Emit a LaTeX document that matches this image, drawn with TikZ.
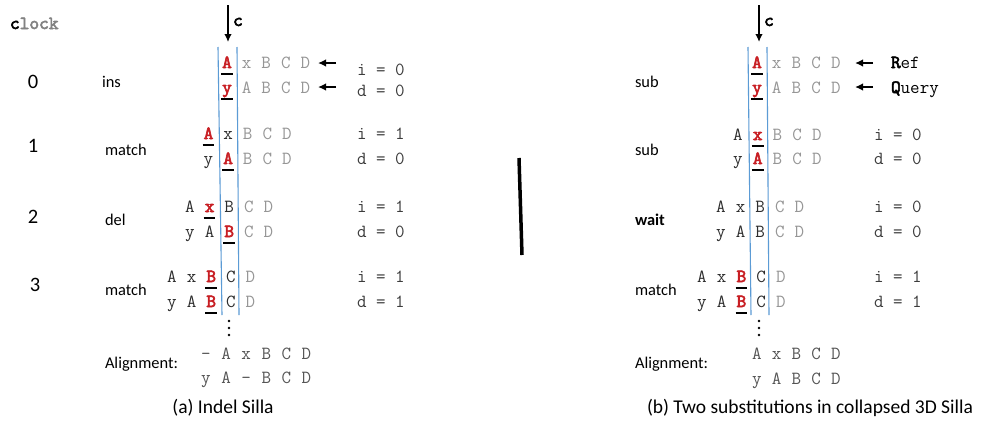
\documentclass[tikz,border=0pt]{standalone}
\usepackage{fontspec}
\setmainfont{Carlito}
\newcommand\monofam{\ttfamily}
\newfontfamily\monobf[FakeBold=3]{lmmono10-regular.otf}
\usetikzlibrary{arrows.meta}
\definecolor{hitred}{RGB}{200,30,35}
\definecolor{seqgray}{RGB}{150,150,150}
\definecolor{seqblack}{RGB}{45,45,45}
\definecolor{alngray}{RGB}{85,85,85}
\definecolor{idgray}{RGB}{60,60,60}
\definecolor{colblue}{RGB}{91,155,213}
\definecolor{lockgray}{RGB}{130,130,130}
\newcommand\seqrow[5]{%
  \foreach \st/\ch [count=\k] in {#5} {\node[\st] (#1-\k) at ({#2+(\k-1)*#3},#4) {\ch};}}
\tikzset{
  every node/.style={inner sep=0pt, outer sep=0pt},
  sq/.style={font=\monofam\fontsize{18.5}{21}\selectfont, anchor=base},
  gry/.style={sq, text=seqgray},
  blk/.style={sq, text=seqblack},
  aln/.style={sq, text=alngray},
  hit/.style={sq, text=hitred, font=\monobf\fontsize{18.5}{21}\selectfont,
    append after command={\pgfextra{\draw[line width=1.4pt,black]
      ([xshift=-1pt,yshift=-6pt]\tikzlastnode.base west) --
      ([xshift=1pt,yshift=-6pt]\tikzlastnode.base east);}}},
  idtxt/.style={font=\monofam\fontsize{18.5}{21}\selectfont, text=idgray, anchor=base west},
  oplab/.style={font=\fontsize{16.4}{19}\selectfont, anchor=base west},
  clknum/.style={font=\fontsize{20.5}{24}\selectfont},
  caption/.style={font=\fontsize{19.5}{23}\selectfont, anchor=base},
  colline/.style={draw=colblue, line width=1.1pt},
  arr/.style={line width=1.5pt, -{Latex[length=8pt,width=7.5pt]}},
  cmark/.style={font=\monobf\fontsize{18.5}{21}\selectfont, anchor=base},
  rq/.style={font=\monofam\fontsize{18.5}{21}\selectfont, anchor=base west},
}
\begin{document}
\begin{tikzpicture}[x=1pt,y=-1pt]
\useasboundingbox[fill=white] (0,0) rectangle (989,426);

% clock header and numbers
\node[anchor=base west, font=\monobf\fontsize{18.5}{21}\selectfont] (clk) at (10,29) {c\textcolor{lockgray}{lock}};
\node[clknum] (k0) at (33,82) {0};
\node[clknum] (k1) at (33,146) {1};
\node[clknum] (k2) at (33,217) {2};
\node[clknum] (k3) at (35,285) {3};

% ===== Panel (a) =====
\draw[colline] (218,47) coordinate (aL1) -- (222,315) coordinate (aL2);
\draw[colline] (237,47) coordinate (aR1) -- (239,315) coordinate (aR2);
\coordinate (acT) at (228,5); \coordinate (acB) at (228,42);
\draw[arr] (acT) -- (acB);
\node[cmark] (acl) at (238,26) {c};

\node[oplab] (aop0) at (102,87) {ins};
\node[oplab] (aop1) at (105,155) {match};
\node[oplab] (aop2) at (105,225) {del};
\node[oplab] (aop3) at (105,295) {match};

\seqrow{a0r}{227}{19.6}{68}{hit/A,gry/x,gry/B,gry/C,gry/D}
\seqrow{a0q}{227}{19.6}{93}{hit/y,gry/A,gry/B,gry/C,gry/D}
\seqrow{a1r}{208.5}{19.6}{139}{hit/A,blk/x,gry/B,gry/C,gry/D}
\seqrow{a1q}{208.5}{19.6}{164}{blk/y,hit/A,gry/B,gry/C,gry/D}
\seqrow{a2r}{190}{19.6}{212}{blk/A,hit/x,blk/B,gry/C,gry/D}
\seqrow{a2q}{190}{19.6}{237}{blk/y,blk/A,hit/B,gry/C,gry/D}
\seqrow{a3r}{172}{19.6}{282}{blk/A,blk/x,hit/B,blk/C,gry/D}
\seqrow{a3q}{172}{19.6}{307}{blk/y,blk/A,hit/B,blk/C,gry/D}

\coordinate (aa1s) at (336,63); \coordinate (aa1e) at (318,63);
\coordinate (aa2s) at (336,87); \coordinate (aa2e) at (318,87);
\draw[arr] (aa1s) -- (aa1e);
\draw[arr] (aa2s) -- (aa2e);

\node[idtxt] (ai0) at (357,75) {i = 0};
\node[idtxt] (ad0) at (357,96) {d = 0};
\node[idtxt] (ai1) at (357,139) {i = 1};
\node[idtxt] (ad1) at (357,164) {d = 0};
\node[idtxt] (ai2) at (357,212) {i = 1};
\node[idtxt] (ad2) at (357,237) {d = 0};
\node[idtxt] (ai3) at (357,282) {i = 1};
\node[idtxt] (ad3) at (357,307) {d = 1};

\foreach \yy in {321,328,335} \fill (229,\yy) circle (1.4);

\node[oplab] (aaln) at (105,368) {Alignment:};
\seqrow{aA1}{206}{20.1}{359}{aln/-,aln/A,aln/x,aln/B,aln/C,aln/D}
\seqrow{aA2}{206}{20.1}{383}{aln/y,aln/A,aln/-,aln/B,aln/C,aln/D}

\node[caption] (capa) at (223,413) {(a) Indel Silla};

% divider
\draw[line width=3.5pt] (519,158) coordinate (dv1) -- (522,255) coordinate (dv2);

% ===== Panel (b) =====
\draw[colline] (748,47) coordinate (bL1) -- (751,315) coordinate (bL2);
\draw[colline] (767,47) coordinate (bR1) -- (769,315) coordinate (bR2);
\coordinate (bcT) at (759,5); \coordinate (bcB) at (759,42);
\draw[arr] (bcT) -- (bcB);
\node[cmark] (bcl) at (769,26) {c};

\node[oplab] (bop0) at (635,87) {sub};
\node[oplab] (bop1) at (635,155) {sub};
\node[oplab] (bop2) at (635,225) {\textbf{wait}};
\node[oplab] (bop3) at (635,295) {match};

\seqrow{b0r}{757}{19.7}{68}{hit/A,gry/x,gry/B,gry/C,gry/D}
\seqrow{b0q}{757}{19.7}{93}{hit/y,gry/A,gry/B,gry/C,gry/D}
\seqrow{b1r}{738}{19.7}{140}{blk/A,hit/x,gry/B,gry/C,gry/D}
\seqrow{b1q}{738}{19.7}{164}{blk/y,hit/A,gry/B,gry/C,gry/D}
\seqrow{b2r}{721}{19.6}{212}{blk/A,blk/x,blk/B,gry/C,gry/D}
\seqrow{b2q}{721}{19.6}{237}{blk/y,blk/A,blk/B,gry/C,gry/D}
\seqrow{b3r}{702}{19.7}{282}{blk/A,blk/x,hit/B,blk/C,gry/D}
\seqrow{b3q}{702}{19.7}{307}{blk/y,blk/A,hit/B,blk/C,gry/D}

\coordinate (ba1s) at (873,63); \coordinate (ba1e) at (855,63);
\coordinate (ba2s) at (873,87); \coordinate (ba2e) at (855,87);
\draw[arr] (ba1s) -- (ba1e);
\draw[arr] (ba2s) -- (ba2e);
\node[rq] (bref) at (891,68) {{\monobf R}ef};
\node[rq] (bqry) at (891,93) {{\monobf Q}uery};

\node[idtxt] (bi1) at (874,140) {i = 0};
\node[idtxt] (bd1) at (874,164) {d = 0};
\node[idtxt] (bi2) at (874,212) {i = 0};
\node[idtxt] (bd2) at (874,237) {d = 0};
\node[idtxt] (bi3) at (874,282) {i = 1};
\node[idtxt] (bd3) at (874,307) {d = 1};

\foreach \yy in {321,328,335} \fill (759,\yy) circle (1.4);

\node[oplab] (baln) at (635,368) {Alignment:};
\seqrow{bA1}{757}{19.75}{359}{aln/A,aln/x,aln/B,aln/C,aln/D}
\seqrow{bA2}{757}{19.75}{384}{aln/y,aln/A,aln/B,aln/C,aln/D}

\node[caption, anchor=base west] (capb) at (647,413) {(b) Two substitutions in collapsed 3D Silla};
\end{tikzpicture}
\end{document}
